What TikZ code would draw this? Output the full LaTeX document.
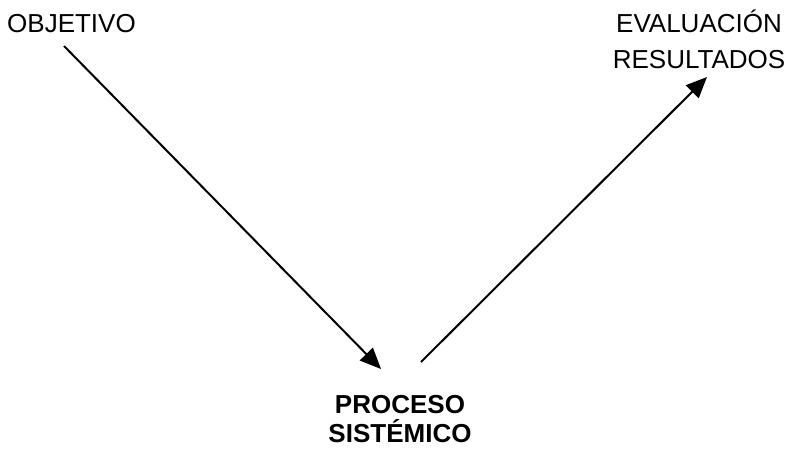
\documentclass[tikz,border=0pt]{standalone}
\usepackage{fontspec}
\setmainfont{Liberation Sans}
\usetikzlibrary{arrows.meta}

\tikzset{
    etiqueta/.style={inner sep=0pt, align=center, font=\fontsize{26}{36}\selectfont},
    flecha/.style={line width=2pt, -{Triangle[length=21pt,width=18pt]}}
}

\begin{document}
\begin{tikzpicture}[x=1pt,y=-1pt]
        \useasboundingbox (0,0) rectangle (786,450);
        \node[etiqueta, anchor=base west] (obj) at (7,32) {OBJETIVO};
        \node[etiqueta, anchor=base] (eval) at (699,68) {EVALUACIÓN\\RESULTADOS};
        \node[etiqueta, anchor=base, font=\bfseries\fontsize{26}{29}\selectfont] (proc) at (400,442) {PROCESO\\SISTÉMICO};
        \coordinate (a) at (64,46);
        \coordinate (b) at (381,369);
        \coordinate (c) at (421,362);
        \coordinate (d) at (707,77);
        \draw[flecha] (a) -- (b);
        \draw[flecha] (c) -- (d);
    \end{tikzpicture}
\end{document}
